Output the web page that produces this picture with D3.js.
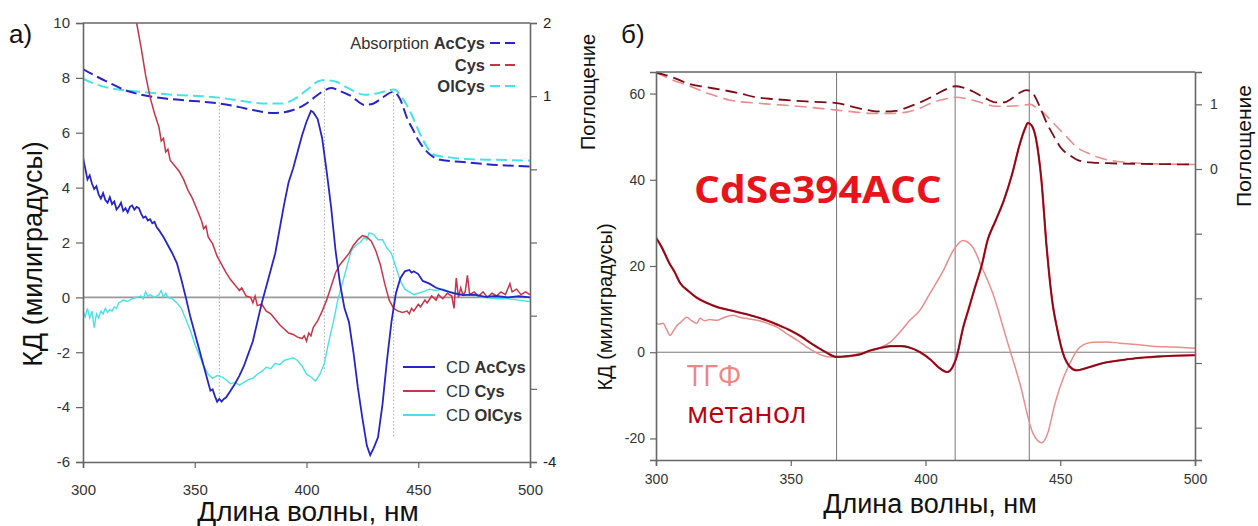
<!DOCTYPE html>
<html lang="ru">
<head>
<meta charset="UTF-8">
<title>КД спектры</title>
<script src="https://d3js.org/d3.v7.min.js"></script>
<style>
  body { margin: 0; background: #fff; }
  svg { display: block; font-family: "Liberation Sans", Arial, sans-serif; }
</style>
</head>
<body>
<svg width="1258" height="526"></svg>
<script>
// ---- panel a) data : [wavelength nm, value]
var xTicks = [300, 350, 400, 450, 500];
var aLeftTicks = [-6, -4, -2, 0, 2, 4, 6, 8, 10];
var aRightTicks = [-4, -3, -2, -1, 0, 1, 2];
var aRightLabels = [2, 1, -4];
var aDotted = [361, 408, 439];
var aDottedTop = [0.92, 1.12, 1.06];      // absorption units
var aDottedBottom = [-3.7, -2.7, -5.1];   // CD units

var absAcCys = [[300,1.37],[306,1.27],[312,1.18],[319,1.08],[326,1.02],[336,0.97],[347,0.94],[361,0.9],[370,0.85],[376,0.81],[385,0.77],[390,0.78],[394,0.81],[399,0.88],[403,0.97],[407,1.06],[411,1.11],[415,1.07],[420,1.0],[426,0.88],[430,0.9],[434,0.98],[439,1.06],[442,0.95],[445,0.7],[448,0.52],[450,0.4],[455,0.21],[460,0.13],[470,0.1],[485,0.06],[500,0.04]];
var absOlCys = [[300,1.24],[306,1.16],[312,1.11],[326,1.06],[340,1.02],[361,0.98],[372,0.93],[382,0.9],[389,0.9],[394,0.95],[400,1.08],[405,1.2],[408,1.22],[413,1.2],[418,1.12],[426,1.02],[432,1.04],[439,1.09],[443,0.97],[447,0.75],[451,0.47],[454,0.3],[457,0.2],[465,0.16],[472,0.14],[485,0.13],[500,0.12]];

var cdAcCys = [[300,5.1],[301,4.7],[302,4.3],[303,4.45],[304,4.15],[305,3.95],[306,4.05],[307,3.75],[308,3.6],[309,3.8],[310,3.55],[311,3.45],[312,3.65],[313,3.4],[314,3.5],[315,3.2],[316,3.3],[317,3.45],[318,3.15],[319,3.25],[320,3.1],[321,3.3],[322,3.35],[323,3.2],[324,3.3],[325,3.25],[326,3.05],[327,2.9],[328,2.95],[329,2.8],[330,2.85],[331,2.7],[332,2.75],[333,2.55],[334,2.45],[336,2.2],[338,1.9],[340,1.6],[342,1.25],[344,0.65],[346,0],[348,-0.7],[350,-1.3],[352,-1.9],[354,-2.5],[356,-3.1],[357,-3.4],[358,-3.35],[359,-3.6],[360,-3.8],[361,-3.7],[362,-3.8],[363,-3.7],[364,-3.65],[366,-3.4],[368,-3.15],[370,-2.85],[372,-2.5],[374,-2.05],[376,-1.6],[378,-0.9],[380,-0.2],[382,0.4],[384,1.0],[386,1.6],[388,2.5],[390,3.4],[392,4.2],[394,4.7],[396,5.3],[398,5.9],[400,6.4],[402,6.8],[403,6.75],[405,6.5],[407,5.8],[409,4.6],[411,3.3],[413,1.7],[415,0.5],[417,-0.4],[419,-0.9],[421,-2.0],[423,-3.3],[425,-4.4],[427,-5.4],[428.5,-5.75],[430,-5.5],[432,-5.1],[434,-3.9],[436,-2.3],[438,-0.9],[440,0.15],[442,0.7],[444,0.95],[446,1.0],[447,0.9],[448,0.95],[450,0.85],[452,0.6],[455,0.5],[458,0.35],[462,0.25],[466,0.15],[470,0.08],[475,0.1],[480,0.02],[485,0.05],[490,0],[495,0.04],[500,0]];
var cdCys = [[318,11.8],[322,10.6],[324,10],[326,9.1],[328,8.1],[330,7.3],[332,6.7],[334,6.2],[335,5.7],[336,5.8],[337,5.3],[338,5.4],[339,5.0],[341,4.8],[343,4.6],[345,4.3],[347,3.9],[349,3.6],[351,3.2],[353,2.8],[354,2.5],[355,2.6],[356,2.2],[358,1.95],[360,1.5],[362,1.2],[364,0.9],[366,0.65],[368,0.45],[370,0.25],[371,0.35],[373,0.05],[375,0.0],[376,-0.2],[377,0.05],[378,-0.3],[380,-0.25],[382,-0.5],[384,-0.6],[386,-0.8],[388,-1.0],[390,-1.15],[392,-1.3],[394,-1.35],[396,-1.45],[398,-1.5],[399,-1.4],[400,-1.6],[401,-1.3],[402,-1.4],[403,-1.1],[405,-0.85],[407,-0.5],[409,-0.1],[411,0.4],[413,0.9],[415,1.2],[417,1.4],[419,1.6],[421,1.9],[423,2.1],[425,2.25],[427,2.2],[429,2.05],[431,1.7],[433,1.2],[435,0.5],[437,-0.1],[439,-0.4],[441,-0.5],[443,-0.55],[445,-0.5],[446,-0.6],[447,-0.4],[448,-0.5],[450,-0.25],[451,-0.35],[453,-0.1],[454,-0.2],[456,0.05],[458,-0.1],[459,0.1],[461,-0.05],[463,0.15],[465,0.05],[466,-0.4],[467,0.7],[468,0.0],[469,0.35],[470,0.1],[471,0.2],[472,0.8],[473,0.1],[475,0.2],[477,0.05],[479,0.2],[481,0.0],[483,0.15],[485,0.05],[487,0.2],[489,0.1],[491,0.5],[492,0.2],[494,0.3],[496,0.1],[498,0.2],[500,0.1]];
var cdOlCys = [[300,-0.5],[301,-0.7],[302,-0.4],[303,-0.75],[304,-0.5],[305,-1.1],[306,-0.6],[307,-0.75],[308,-0.5],[309,-0.6],[310,-0.4],[311,-0.55],[312,-0.45],[313,-0.5],[314,-0.35],[315,-0.4],[316,-0.2],[318,-0.1],[320,-0.15],[322,-0.05],[324,0.0],[326,0.05],[327,-0.05],[328,0.2],[329,0.05],[330,0.1],[332,0.0],[334,0.1],[335,0.25],[336,0.0],[337,0.15],[338,0.0],[340,-0.05],[342,-0.2],[344,-0.4],[346,-0.8],[348,-1.2],[350,-1.7],[352,-2.1],[354,-2.5],[356,-2.8],[358,-2.95],[360,-2.85],[362,-2.9],[364,-3.0],[366,-3.15],[368,-3.1],[370,-3.2],[372,-3.1],[374,-3.0],[376,-2.95],[378,-2.8],[380,-2.7],[382,-2.55],[384,-2.6],[386,-2.4],[388,-2.45],[390,-2.3],[392,-2.25],[394,-2.2],[396,-2.3],[398,-2.5],[400,-2.8],[402,-2.9],[404,-3.05],[406,-2.8],[408,-2.4],[410,-1.6],[412,-0.9],[414,-0.1],[416,0.5],[418,1.1],[420,1.7],[422,1.9],[424,2.0],[426,2.2],[427,2.1],[428,2.35],[430,2.3],[432,2.1],[434,2.1],[436,1.8],[438,1.6],[440,1.1],[442,0.6],[444,0.3],[446,0.2],[448,0.1],[450,0.15],[452,0.2],[455,0.3],[458,0.25],[461,0.3],[464,0.2],[468,0.15],[472,0.1],[476,0.05],[480,0.0],[485,-0.05],[490,-0.05],[495,-0.1],[500,-0.15]];

// ---- panel б) data
var bLeftTicks = [-20, 0, 20, 40, 60];
var bRightTicks = [-4, -3, -2, -1, 0, 1];
var bRightLabels = [1, 0];
var bVLines = [367, 411, 438.5];

var absMeOH = [[300,1.49],[306,1.42],[312,1.32],[318,1.27],[325,1.22],[331,1.17],[337,1.11],[344,1.08],[350,1.06],[358,1.04],[367,1.02],[375,0.94],[380,0.9],[384,0.89],[389,0.9],[393,0.95],[398,1.03],[402,1.11],[405,1.18],[408,1.24],[411,1.28],[414,1.26],[418,1.19],[422,1.1],[426,1.03],[429,1.03],[432,1.09],[435,1.18],[437.5,1.22],[440,1.16],[442,1.0],[445,0.71],[448,0.48],[450,0.34],[454,0.2],[457,0.13],[462,0.1],[467,0.09],[480,0.08],[500,0.07]];
var absTHF = [[300,1.49],[306,1.38],[312,1.29],[320,1.16],[328,1.06],[337,1.02],[350,0.98],[358,0.95],[367,0.91],[374,0.88],[380,0.86],[387,0.86],[393,0.88],[398,0.94],[402,1.02],[406,1.07],[411,1.11],[415,1.09],[418,1.06],[422,1.01],[426,0.97],[431,0.97],[435,0.98],[439,1.0],[441,0.95],[444,0.86],[447,0.73],[450,0.6],[453,0.47],[456,0.34],[460,0.25],[464,0.18],[469,0.13],[475,0.1],[485,0.08],[500,0.07]];
var cdMeOH = [[300,26.6],[302,24.5],[305,20.6],[307,18.5],[309,16],[312,14.2],[315,12.7],[319,11.4],[323,10.4],[327,9.8],[331,9.2],[336,8.4],[341,7.4],[345,6.4],[350,5.0],[354,3.6],[357,2.3],[360,1.1],[363,0],[367,-1.1],[371,-0.9],[375,-0.6],[380,0.5],[384,1.1],[387,1.4],[391,1.4],[394,1.1],[398,0],[402,-1.8],[405,-3.6],[408,-4.6],[410,-3.5],[411.5,-1.2],[414,5.8],[416,10],[418,14.3],[421,20.5],[423,25.9],[426,30.5],[429,35.1],[432,41],[435,48.3],[437,52],[438,53.2],[439.5,52.5],[441,49.5],[443,40],[445,24],[447,12],[449,5],[451,-0.2],[453.5,-3.3],[456,-4.2],[460,-3.6],[466,-2.5],[472,-1.9],[478,-1.4],[486,-1.0],[500,-0.7]];
var cdTHF = [[300,6.9],[301,6.5],[302.6,6.7],[304,5.2],[305.2,3.9],[306.5,5.0],[307.8,6.2],[309,6.8],[311.5,8.1],[313,7.4],[315.2,6.7],[316.3,7.9],[318,7.3],[320,7.6],[322.6,7.4],[325,8.0],[328.6,8.6],[331,8.1],[334,7.8],[337.5,7.4],[341,6.8],[344.9,5.8],[348,4.5],[352.3,2.8],[356,1.2],[359.7,-0.2],[364.5,-1.1],[368,-1.0],[370.8,-1.1],[374,-0.5],[378.3,0],[383,1.0],[386.8,2.3],[390,4.3],[394.2,7.4],[397.9,9.7],[401.6,13.6],[406.5,18.8],[410.2,23.5],[413.9,25.9],[417.6,24.3],[420.9,19.7],[425,13.6],[430.2,2.8],[435,-7.2],[439.8,-18.7],[443.2,-21],[445.4,-18.7],[448,-12],[449.9,-8.1],[453.6,-2.5],[457.3,1.2],[462.1,2.3],[467,2.4],[472.1,2.1],[478,1.8],[484.3,1.4],[492,1.2],[500,0.9]];

var svg = d3.select("svg");
svg.append("rect").attr("width", 1258).attr("height", 526).attr("fill", "#fff");

function styleAxis(g, size) {
    g.select(".domain").attr("stroke", "#666").attr("stroke-width", 1.6);
    g.selectAll(".tick line").attr("stroke", "#666").attr("stroke-width", 1.2);
    g.selectAll(".tick text").attr("fill", "#333").attr("font-size", size)
        .attr("font-family", "'Liberation Sans', Arial, sans-serif");
}
function plain(d) { return String(d); }

// ================= panel a)
var xA = d3.scaleLinear().domain([300, 500]).range([83, 530]);
var yA = d3.scaleLinear().domain([-6, 10]).range([462, 23]);
var yA2 = d3.scaleLinear().domain([-4, 2]).range([462, 23]);

svg.append("clipPath").attr("id", "clipA").append("rect")
    .attr("x", 83).attr("y", 23).attr("width", 447).attr("height", 439);

var gA = svg.append("g");
var plotA = gA.append("g").attr("clip-path", "url(#clipA)");

plotA.append("line").attr("x1", 83).attr("x2", 530).attr("y1", yA(0)).attr("y2", yA(0))
    .attr("stroke", "#999").attr("stroke-width", 1.6);

aDotted.forEach(function(w, i) {
    plotA.append("line").attr("x1", xA(w)).attr("x2", xA(w))
        .attr("y1", yA2(aDottedTop[i])).attr("y2", yA(aDottedBottom[i]))
        .attr("stroke", "#aaa").attr("stroke-width", 1).attr("stroke-dasharray", "1.5,2");
});

var lineA = d3.line().x(function(d) { return xA(d[0]); }).y(function(d) { return yA(d[1]); });
var lineA2 = d3.line().x(function(d) { return xA(d[0]); }).y(function(d) { return yA2(d[1]); })
    .curve(d3.curveMonotoneX);

var colAc = "#2626c8", colCys = "#c93448", colOl = "#48e2e6";

plotA.append("path").datum(absOlCys).attr("d", lineA2).attr("fill", "none")
    .attr("stroke", colOl).attr("stroke-width", 2).attr("stroke-dasharray", "11,5");
plotA.append("path").datum(absAcCys).attr("d", lineA2).attr("fill", "none")
    .attr("stroke", colAc).attr("stroke-width", 2).attr("stroke-dasharray", "11,5");

plotA.append("path").datum(cdOlCys).attr("d", lineA).attr("fill", "none")
    .attr("stroke", colOl).attr("stroke-width", 1.4);
plotA.append("path").datum(cdCys).attr("d", lineA).attr("fill", "none")
    .attr("stroke", colCys).attr("stroke-width", 1.5);
plotA.append("path").datum(cdAcCys).attr("d", lineA).attr("fill", "none")
    .attr("stroke", colAc).attr("stroke-width", 1.8);

// axes a)
var axAB = gA.append("g").attr("transform", "translate(0,462)")
    .call(d3.axisBottom(xA).tickValues(xTicks).tickSize(6).tickPadding(16).tickFormat(plain));
styleAxis(axAB, 15);
var axAL = gA.append("g").attr("transform", "translate(83,0)")
    .call(d3.axisLeft(yA).tickValues(aLeftTicks).tickSize(7).tickPadding(6).tickFormat(plain));
styleAxis(axAL, 15);
var axAR = gA.append("g").attr("transform", "translate(530,0)")
    .call(d3.axisRight(yA2).tickValues(aRightTicks).tickSize(7).tickPadding(6)
        .tickFormat(function(d) { return aRightLabels.indexOf(d) >= 0 ? String(d) : ""; }));
styleAxis(axAR, 15);
axAR.selectAll(".tick text").attr("fill", "#222");
gA.append("line").attr("x1", 83).attr("x2", 530).attr("y1", 23).attr("y2", 23)
    .attr("stroke", "#666").attr("stroke-width", 1.6);

// legends a)
var legTop = [
    { pre: "Absorption ", name: "AcCys", col: colAc, y: 43 },
    { pre: "", name: "Cys", col: colCys, y: 65 },
    { pre: "", name: "OlCys", col: colOl, y: 86 }
];
legTop.forEach(function(d) {
    var t = gA.append("text").attr("x", 485).attr("y", d.y + 6).attr("text-anchor", "end")
        .attr("font-size", 16.5).attr("fill", "#333");
    t.append("tspan").text(d.pre);
    t.append("tspan").attr("font-weight", "bold").text(d.name);
    gA.append("line").attr("x1", 490).attr("x2", 520).attr("y1", d.y).attr("y2", d.y)
        .attr("stroke", d.col).attr("stroke-width", 2).attr("stroke-dasharray", "10,5");
});
var legBot = [
    { name: "AcCys", col: colAc, y: 367 },
    { name: "Cys", col: colCys, y: 391 },
    { name: "OlCys", col: colOl, y: 415 }
];
legBot.forEach(function(d) {
    gA.append("line").attr("x1", 403).attr("x2", 435).attr("y1", d.y).attr("y2", d.y)
        .attr("stroke", d.col).attr("stroke-width", 2);
    var t = gA.append("text").attr("x", 446).attr("y", d.y + 6)
        .attr("font-size", 16.5).attr("fill", "#333");
    t.append("tspan").text("CD ");
    t.append("tspan").attr("font-weight", "bold").text(d.name);
});

gA.append("text").attr("x", 9).attr("y", 43).attr("font-size", 26).attr("fill", "#111").text("a)");
gA.append("text").attr("transform", "translate(42,254) rotate(-90)").attr("text-anchor", "middle")
    .attr("font-size", 27).attr("fill", "#111").text("КД (милиградусы)");
gA.append("text").attr("x", 308).attr("y", 521).attr("text-anchor", "middle")
    .attr("font-size", 28).attr("fill", "#111").text("Длина волны, нм");

// ================= panel б)
var xB = d3.scaleLinear().domain([300, 500]).range([656, 1195]);
var yB = d3.scaleLinear().domain([-25, 65]).range([460, 72]);
var yB2 = d3.scaleLinear().domain([-4.5, 1.5]).range([460, 72]);

svg.append("clipPath").attr("id", "clipB").append("rect")
    .attr("x", 656).attr("y", 72).attr("width", 539).attr("height", 388);

var gB = svg.append("g");
var plotB = gB.append("g").attr("clip-path", "url(#clipB)");

plotB.append("line").attr("x1", 656).attr("x2", 1195).attr("y1", yB(0)).attr("y2", yB(0))
    .attr("stroke", "#777").attr("stroke-width", 1);
bVLines.forEach(function(w) {
    plotB.append("line").attr("x1", xB(w)).attr("x2", xB(w)).attr("y1", 72).attr("y2", 460)
        .attr("stroke", "#777").attr("stroke-width", 1);
});

var lineB = d3.line().x(function(d) { return xB(d[0]); }).y(function(d) { return yB(d[1]); })
    .curve(d3.curveMonotoneX);
var lineB2 = d3.line().x(function(d) { return xB(d[0]); }).y(function(d) { return yB2(d[1]); })
    .curve(d3.curveMonotoneX);

var colMe = "#7e0c18", colThf = "#e98d8d";

plotB.append("path").datum(absTHF).attr("d", lineB2).attr("fill", "none")
    .attr("stroke", colThf).attr("stroke-width", 1.6).attr("stroke-dasharray", "12,6");
plotB.append("path").datum(absMeOH).attr("d", lineB2).attr("fill", "none")
    .attr("stroke", colMe).attr("stroke-width", 1.8).attr("stroke-dasharray", "12,6");
plotB.append("path").datum(cdTHF).attr("d", lineB).attr("fill", "none")
    .attr("stroke", colThf).attr("stroke-width", 1.5);
plotB.append("path").datum(cdMeOH).attr("d", lineB).attr("fill", "none")
    .attr("stroke", "#d02030").attr("stroke-width", 2.2);
plotB.append("path").datum(cdMeOH).attr("d", lineB).attr("fill", "none")
    .attr("stroke", colMe).attr("stroke-width", 1.4);

var axBB = gB.append("g").attr("transform", "translate(0,460)")
    .call(d3.axisBottom(xB).tickValues(xTicks).tickSize(6).tickPadding(8).tickFormat(plain));
styleAxis(axBB, 14);
var axBL = gB.append("g").attr("transform", "translate(656,0)")
    .call(d3.axisLeft(yB).tickValues(bLeftTicks).tickSize(6).tickPadding(5).tickFormat(plain));
styleAxis(axBL, 14);
var axBR = gB.append("g").attr("transform", "translate(1195,0)")
    .call(d3.axisRight(yB2).tickValues(bRightTicks).tickSize(7).tickPadding(8)
        .tickFormat(function(d) { return bRightLabels.indexOf(d) >= 0 ? String(d) : ""; }));
styleAxis(axBR, 14);
gB.append("line").attr("x1", 656).attr("x2", 1195).attr("y1", 72).attr("y2", 72)
    .attr("stroke", "#666").attr("stroke-width", 1.6);

gB.append("text").attr("x", 621).attr("y", 43).attr("font-size", 26).attr("fill", "#111").text("б)");
gB.append("text").attr("transform", "translate(595,92) rotate(-90)").attr("text-anchor", "middle")
    .attr("font-size", 20).attr("fill", "#111").text("Поглощение");
gB.append("text").attr("transform", "translate(612,307) rotate(-90)").attr("text-anchor", "middle")
    .attr("font-size", 20).attr("fill", "#111").text("КД (милиградусы)");
gB.append("text").attr("transform", "translate(1251,146) rotate(-90)").attr("text-anchor", "middle")
    .attr("font-size", 21).attr("fill", "#111").text("Поглощение");
gB.append("text").attr("x", 930).attr("y", 513).attr("text-anchor", "middle")
    .attr("font-size", 27).attr("fill", "#111").text("Длина волны, нм");

// label is a little wider than Open Sans Bold, so stretch it horizontally
gB.append("text").attr("transform", "translate(694,203) scale(1.1,1)")
    .attr("font-family", "'Open Sans', sans-serif")
    .attr("font-weight", "bold").attr("font-size", 37).attr("fill", "#e8141c").text("CdSe394ACC");
gB.append("text").attr("x", 687).attr("y", 386).attr("font-family", "'Open Sans', sans-serif")
    .attr("font-size", 29).attr("fill", "#f08585").text("ТГФ");
gB.append("text").attr("x", 687).attr("y", 423).attr("font-family", "'Open Sans', sans-serif")
    .attr("font-size", 29).attr("fill", "#b8000f").text("метанол");
</script>
</body>
</html>
